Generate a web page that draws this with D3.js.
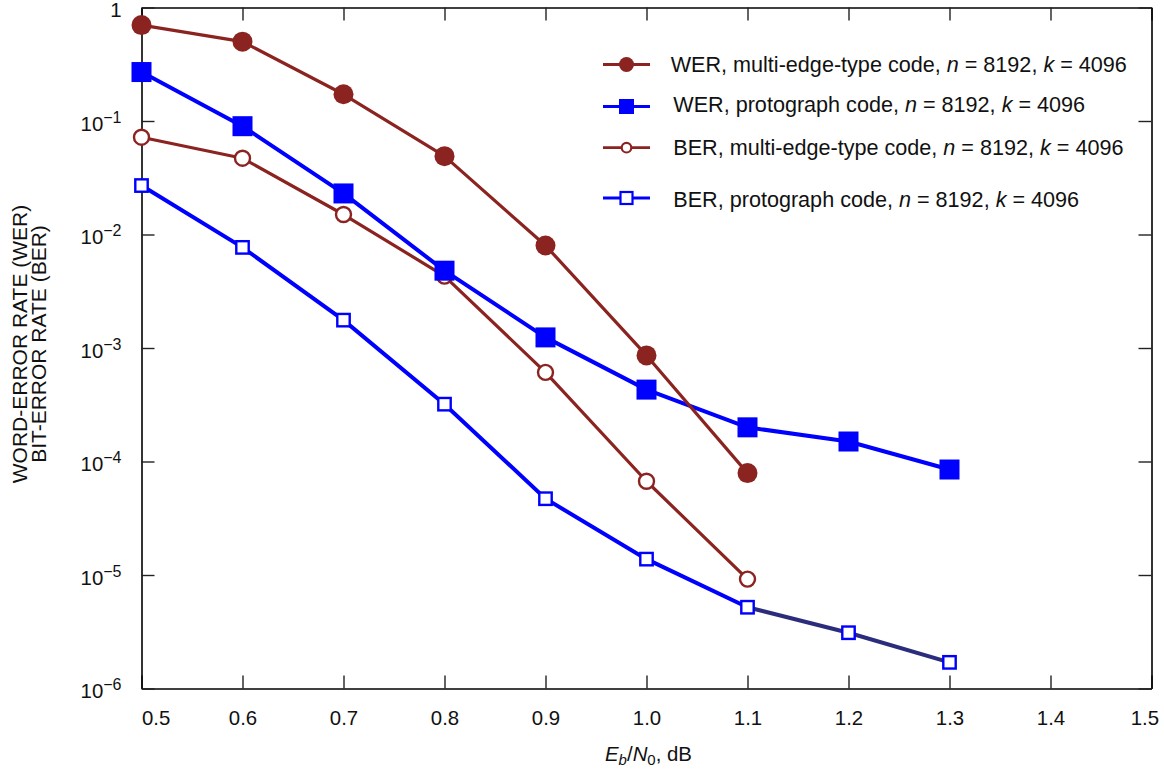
<!DOCTYPE html>
<html>
<head>
<meta charset="utf-8">
<script src="https://cdn.jsdelivr.net/npm/d3@7"></script>
<style>
  body { margin: 0; background: #fff; }
  svg text { font-family: "Liberation Sans", Arial, Helvetica, sans-serif; fill: #111; }
</style>
</head>
<body>
<div id="root"></div>
<script>
// Eb/N0 in dB
const ebn0 = [0.5, 0.6, 0.7, 0.8, 0.9, 1.0, 1.1, 1.2, 1.3];
// error rates
const werMet = [0.70, 0.50, 0.172, 0.049, 0.0080, 8.6e-4, 7.9e-5];
const werProto = [0.27, 0.090, 0.023, 4.8e-3, 1.24e-3, 4.3e-4, 2.0e-4, 1.5e-4, 8.5e-5];
const berMet = [0.072, 0.047, 0.015, 4.3e-3, 6.1e-4, 6.7e-5, 9.2e-6];
const berProto = [0.027, 7.7e-3, 1.76e-3, 3.2e-4, 4.7e-5, 1.38e-5, 5.2e-6, 3.1e-6, 1.7e-6];

const xTicks = [0.5, 0.6, 0.7, 0.8, 0.9, 1.0, 1.1, 1.2, 1.3, 1.4, 1.5];
const yTickExps = [0, -1, -2, -3, -4, -5, -6];

const legendLabels = [
  ["WER, multi-edge-type code, ", "n", " = 8192, ", "k", " = 4096"],
  ["WER, protograph code, ", "n", " = 8192, ", "k", " = 4096"],
  ["BER, multi-edge-type code, ", "n", " = 8192, ", "k", " = 4096"],
  ["BER, protograph code, ", "n", " = 8192, ", "k", " = 4096"]
];

const red = "#8b2320";
const blue = "#0000ff";
const navy = "#2b2d7c";

const W = 1164, H = 770;
const margin = { left: 141.5, top: 7.5 };
const w = 1010, h = 681;

const svg = d3.select("#root").append("svg")
  .attr("width", W).attr("height", H);

const g = svg.append("g")
  .attr("transform", "translate(" + margin.left + "," + margin.top + ")");

const x = d3.scaleLinear().domain([0.5, 1.5]).range([0, w]);
const y = d3.scaleLog().domain([1e-6, 1]).range([h, 0]);

// axes: ticks point inward on all four sides
const xAxis = g.append("g")
  .attr("transform", "translate(0," + h + ")")
  .call(d3.axisBottom(x).tickValues(xTicks).tickFormat(d3.format(".1f"))
    .tickSizeInner(-13).tickSizeOuter(0).tickPadding(22));
xAxis.selectAll("text").style("font-size", "20.4px");
xAxis.selectAll(".tick").filter(d => d === 0.5).select("text").attr("text-anchor", "start");
xAxis.selectAll(".tick").filter(d => d === 1.5).select("text")
  .attr("text-anchor", "end").attr("dx", 7);

g.append("g")
  .call(d3.axisTop(x).tickValues(xTicks).tickFormat("")
    .tickSizeInner(-13).tickSizeOuter(0));

const yVals = yTickExps.map(e => Math.pow(10, e));
const yAxis = g.append("g")
  .call(d3.axisLeft(y).tickValues(yVals).tickFormat("")
    .tickSizeInner(-13).tickSizeOuter(0).tickPadding(20));
yAxis.selectAll(".tick text")
  .style("font-size", "20.4px")
  .attr("dy", "0.45em")
  .each(function(d) {
    const t = d3.select(this);
    const e = Math.round(Math.log10(d));
    if (e === 0) { t.text("1"); return; }
    t.append("tspan").text("10");
    t.append("tspan").attr("dy", -8).style("font-size", "16px").text("\u2212" + (-e));
  });

g.append("g")
  .attr("transform", "translate(" + w + ",0)")
  .call(d3.axisRight(y).tickValues(yVals).tickFormat("")
    .tickSizeInner(-13).tickSizeOuter(0));

g.selectAll(".domain").attr("stroke", "#000").attr("stroke-width", 1.6);
g.selectAll(".tick line").attr("stroke", "#222").attr("stroke-width", 1.4);

// series
const series = [
  { name: "berMet", vals: berMet, color: red, lw: 3.2, marker: "circle", fill: false, r: 7.5 },
  { name: "berProto", vals: berProto, color: blue, lw: 4, marker: "square", fill: false, r: 6.2 },
  { name: "werProto", vals: werProto, color: blue, lw: 4, marker: "square", fill: true, r: 10 },
  { name: "werMet", vals: werMet, color: red, lw: 3.2, marker: "circle", fill: true, r: 10 }
];

const line = d3.line().x(d => x(d[0])).y(d => y(d[1]));

series.forEach(s => {
  const pts = s.vals.map((v, i) => [ebn0[i], v]);
  if (s.name === "berProto") {
    // the tail beyond 1.1 dB is drawn in a darker shade
    const head = pts.filter(p => p[0] <= 1.1 + 1e-9);
    const tail = pts.filter(p => p[0] >= 1.1 - 1e-9);
    g.append("path").datum(head).attr("d", line)
      .attr("fill", "none").attr("stroke", s.color).attr("stroke-width", s.lw);
    g.append("path").datum(tail).attr("d", line)
      .attr("fill", "none").attr("stroke", navy).attr("stroke-width", s.lw);
  } else {
    g.append("path").datum(pts).attr("d", line)
      .attr("fill", "none").attr("stroke", s.color).attr("stroke-width", s.lw)
      .attr("stroke-linejoin", "round");
  }
  const mk = g.selectAll(null).data(pts).enter();
  if (s.marker === "circle") {
    mk.append("circle")
      .attr("cx", d => x(d[0])).attr("cy", d => y(d[1]))
      .attr("r", s.r)
      .attr("fill", s.fill ? s.color : "#fff")
      .attr("stroke", s.color).attr("stroke-width", s.fill ? 0 : 2.4);
  } else {
    mk.append("rect")
      .attr("x", d => x(d[0]) - s.r).attr("y", d => y(d[1]) - s.r)
      .attr("width", s.r * 2).attr("height", s.r * 2)
      .attr("fill", s.fill ? s.color : "#fff")
      .attr("stroke", s.color).attr("stroke-width", s.fill ? 0 : 2.4);
  }
});

// legend
const legendRows = [
  { y: 64.5, base: 71.7, tx: 670.7, color: red, marker: "circle", fill: true, r: 7.5 },
  { y: 106.5, base: 112, tx: 673.3, color: blue, marker: "square", fill: true, r: 7.5 },
  { y: 147.7, base: 155, tx: 673.3, color: red, marker: "circle", fill: false, r: 4.8 },
  { y: 198, base: 206.5, tx: 673.3, color: blue, marker: "square", fill: false, r: 6 }
];

const lg = svg.append("g");
legendRows.forEach((row, i) => {
  lg.append("line")
    .attr("x1", 603).attr("x2", 650).attr("y1", row.y).attr("y2", row.y)
    .attr("stroke", row.color).attr("stroke-width", 2.8);
  if (row.marker === "circle") {
    lg.append("circle").attr("cx", 626.5).attr("cy", row.y).attr("r", row.r)
      .attr("fill", row.fill ? row.color : "#fff")
      .attr("stroke", row.color).attr("stroke-width", row.fill ? 0 : 2.2);
  } else {
    lg.append("rect").attr("x", 626.5 - row.r).attr("y", row.y - row.r)
      .attr("width", row.r * 2).attr("height", row.r * 2)
      .attr("fill", row.fill ? row.color : "#fff")
      .attr("stroke", row.color).attr("stroke-width", row.fill ? 0 : 2.2);
  }
  const t = lg.append("text").attr("x", row.tx).attr("y", row.base)
    .style("font-size", "21.6px");
  legendLabels[i].forEach((part, j) => {
    t.append("tspan").text(part)
      .style("font-style", (j === 1 || j === 3) ? "italic" : "normal");
  });
});

// axis titles
const xt = svg.append("text")
  .attr("x", margin.left + w / 2 + 2).attr("y", 761)
  .attr("text-anchor", "middle")
  .style("font-size", "20.4px");
xt.append("tspan").style("font-style", "italic").text("E");
xt.append("tspan").style("font-style", "italic").style("font-size", "15px").attr("dy", 4).text("b");
xt.append("tspan").attr("dy", -4).text("/");
xt.append("tspan").style("font-style", "italic").text("N");
xt.append("tspan").style("font-size", "15px").attr("dy", 4).text("0");
xt.append("tspan").attr("dy", -4).text(", dB");

const yt = svg.append("text")
  .attr("transform", "translate(27,344) rotate(-90)")
  .attr("text-anchor", "middle")
  .style("font-size", "21px");
yt.append("tspan").attr("x", 0).attr("y", 0).text("WORD-ERROR RATE (WER)");
yt.append("tspan").attr("x", 0).attr("y", 18.5).text("BIT-ERROR RATE (BER)");
</script>
</body>
</html>
